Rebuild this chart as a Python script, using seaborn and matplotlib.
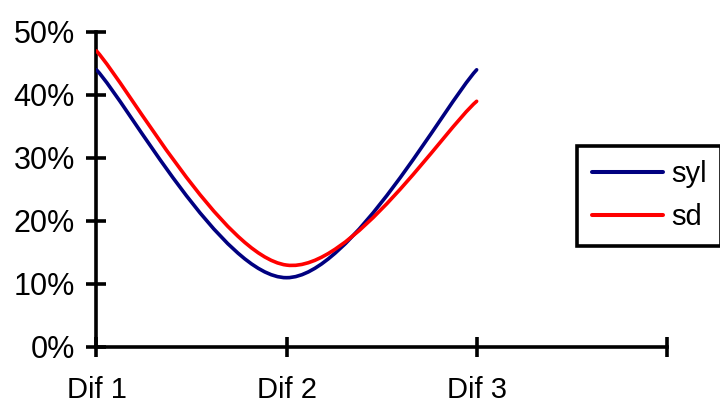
import numpy as np
import pandas as pd
import seaborn as sns
import matplotlib.pyplot as plt
from matplotlib.path import Path
from matplotlib.patches import PathPatch
from matplotlib.lines import Line2D

categories = ['Dif 1', 'Dif 2', 'Dif 3']
syl = [0.44, 0.11, 0.44]
sd = [0.47, 0.13, 0.39]
series_names = ['syl', 'sd']
series_colors = ['#000080', '#ff0000']

sns.set_theme(style="white")
plt.rcParams['font.family'] = ['Liberation Sans', 'DejaVu Sans']
plt.rcParams['text.color'] = 'black'
plt.rcParams['xtick.color'] = 'black'
plt.rcParams['ytick.color'] = 'black'

df = pd.DataFrame({'cat': categories, 'syl': syl, 'sd': sd})

fig = plt.figure(figsize=(7.2, 4.03), dpi=100)
ax = fig.add_axes([0.134, 0.139, 0.792, 0.7816])


# smoothed line like excel (catmull-rom bezier through the data points)
def smooth_path(xs, ys):
    pts = np.column_stack([xs, ys]).astype(float)
    n = len(pts)
    verts = [pts[0]]
    codes = [Path.MOVETO]
    for i in range(n - 1):
        p_prev = pts[max(i - 1, 0)]
        p0 = pts[i]
        p1 = pts[i + 1]
        p_next = pts[min(i + 2, n - 1)]
        c1 = p0 + (p1 - p_prev) / 6
        c2 = p1 - (p_next - p0) / 6
        verts += [c1, c2, p1]
        codes += [Path.CURVE4] * 3
    return Path(verts, codes)


xpos = np.arange(len(categories))
handles = []
for name, color in zip(series_names, series_colors):
    p = smooth_path(xpos, df[name].values)
    ax.add_patch(PathPatch(p, facecolor='none', edgecolor=color, lw=2.6,
                           capstyle='round', zorder=3))
    handles.append(Line2D([], [], color=color, lw=2.9, solid_capstyle='round'))

ax.set_xlim(0, 3)
ax.set_ylim(0, 0.5)
ax.set_xticks([0, 1, 2, 3])
ax.set_xticklabels(categories + [''])
ax.set_yticks(np.arange(0, 0.51, 0.1))
ax.set_yticklabels([f'{int(round(v * 100))}%' for v in np.arange(0, 0.51, 0.1)])

for s in ['top', 'right']:
    ax.spines[s].set_visible(False)
for s in ['left', 'bottom']:
    ax.spines[s].set_linewidth(2.6)
    ax.spines[s].set_color('black')
    ax.spines[s].set_capstyle('projecting')

ax.tick_params(axis='y', direction='inout', length=15, width=2.6,
               labelsize=22, pad=8, left=True)
ax.tick_params(axis='x', direction='inout', length=14.5, width=2.6,
               labelsize=21, pad=14, bottom=True)
ax.set_xlabel('')
ax.set_ylabel('')

leg = fig.legend(handles, series_names, loc='upper left',
                 bbox_to_anchor=(0.802, 0.638), fontsize=21, frameon=True,
                 fancybox=False, framealpha=1, handlelength=2.45,
                 handletextpad=0.25, labelspacing=0.5, borderpad=0.5,
                 borderaxespad=0)
leg.get_frame().set_edgecolor('black')
leg.get_frame().set_linewidth(2.6)

plt.savefig('out.png', dpi=100)
